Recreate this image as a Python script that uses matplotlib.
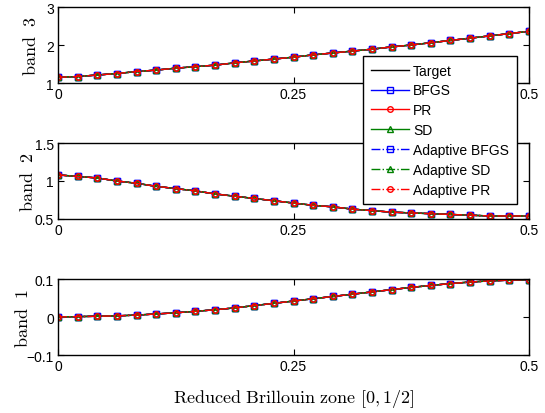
import matplotlib
matplotlib.use("Agg")
import matplotlib.pyplot as plt
import numpy as np

plt.rcParams['mathtext.fontset'] = 'cm'
plt.rcParams['font.family'] = ['Liberation Sans', 'DejaVu Sans']

k = np.linspace(0, 0.5, 25)

band3 = [1.15, 1.17, 1.21, 1.25, 1.30, 1.34, 1.39, 1.43, 1.47, 1.53, 1.58, 1.63,
         1.68, 1.74, 1.79, 1.84, 1.89, 1.95, 2.00, 2.06, 2.12, 2.18, 2.24, 2.30, 2.36]
band2 = [1.08, 1.06, 1.04, 1.00, 0.97, 0.93, 0.90, 0.87, 0.83, 0.80, 0.77, 0.74,
         0.71, 0.68, 0.66, 0.63, 0.61, 0.59, 0.58, 0.57, 0.56, 0.55, 0.54, 0.54, 0.54]
band1 = [0.000, 0.001, 0.002, 0.003, 0.005, 0.008, 0.011, 0.015, 0.019, 0.024, 0.030, 0.036,
         0.042, 0.048, 0.054, 0.060, 0.066, 0.072, 0.078, 0.083, 0.088, 0.092, 0.095, 0.097, 0.098]

bands = [band3, band2, band1]
band_names = ["3", "2", "1"]
ylims = [(1, 3), (0.5, 1.5), (-0.1, 0.1)]
yticks = [[1, 2, 3], [0.5, 1, 1.5], [-0.1, 0, 0.1]]
yticklabels = [["1", "2", "3"], ["0.5", "1", "1.5"], ["\u22120.1", "0", "0.1"]]
xticks = [0, 0.25, 0.5]
xticklabels = ["0", "0.25", "0.5"]

series = [
    ("Target", dict(color='black', ls='-', marker=None)),
    ("BFGS", dict(color='blue', ls='-', marker='s')),
    ("PR", dict(color='red', ls='-', marker='o')),
    ("SD", dict(color='green', ls='-', marker='^')),
    ("Adaptive BFGS", dict(color='blue', ls='-.', marker='s')),
    ("Adaptive SD", dict(color='green', ls='-.', marker='^')),
    ("Adaptive PR", dict(color='red', ls='-.', marker='o')),
]

W, H = 545, 414
fig = plt.figure(figsize=(W / 100, H / 100), dpi=100)
left, right = 58 / W, 529 / W
tops = [8, 144, 280]
height = 76
label_x = [31, 28.5, 23]

axes = []
for i in range(3):
    y0 = 1 - (tops[i] + height) / H
    ax = fig.add_axes([left, y0, right - left, height / H])
    axes.append(ax)
    for name, st in series:
        ax.plot(k, bands[i], color=st['color'], ls=st['ls'], marker=st['marker'],
                mfc='none', ms=4, lw=1, label=name)
    ax.set_xlim(0, 0.5)
    ax.set_ylim(*ylims[i])
    ax.set_xticks(xticks)
    ax.set_xticklabels(xticklabels)
    ax.set_yticks(yticks[i])
    ax.set_yticklabels(yticklabels[i])
    ax.tick_params(direction='in', top=True, right=True, labelsize=10, length=4, pad=3)
    ax.set_ylabel(r"$\mathrm{band}\ \ %s$" % band_names[i], fontsize=13)
    ax.yaxis.label.set_verticalalignment('center')
    ax.yaxis.set_label_coords((label_x[i] - 58) / (529 - 58), 0.5)
    for s in ax.spines.values():
        s.set_linewidth(1)

axes[2].set_xlabel(r"$\mathrm{Reduced\ Brillouin\ zone}\ [0,1/2]$", fontsize=13, labelpad=10)

handles, labels = axes[0].get_legend_handles_labels()
leg = fig.legend(handles, labels, loc='upper left', bbox_to_anchor=(363 / W, 1 - 57 / H),
                 borderaxespad=0, fancybox=False, framealpha=1, edgecolor='black',
                 fontsize=10, handlelength=2.75, labelspacing=0.42, borderpad=0.55,
                 handletextpad=0.3)
leg.get_frame().set_linewidth(1)

fig.savefig("out.png", dpi=100)
